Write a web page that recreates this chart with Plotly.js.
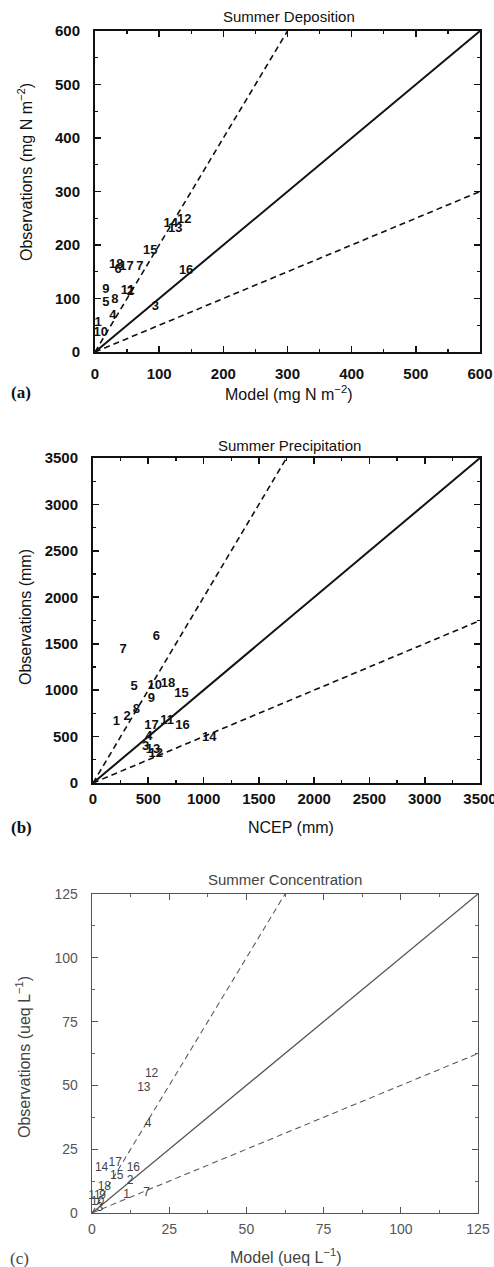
<!DOCTYPE html>
<html><head><meta charset="utf-8">
<script src="https://cdn.plot.ly/plotly-3.0.1.min.js"></script>
<style>html,body{margin:0;padding:0;background:#fff;}#chart{width:494px;height:1267px;}</style>
</head><body><div id="chart"></div>
<script>
// ---------- DATA ----------
// (a) Summer Deposition (mg N m-2)
const depStations = ['1','10','9','5','8','4','18','6','17','7','11','2','15','14','13','12','16','3'];
const depModel    = [5, 9, 17, 17, 31, 28, 33, 36, 49, 70, 51, 55, 86, 118, 125, 139, 142, 94];
const depObs      = [54, 36, 116, 93, 97, 67, 163, 154, 160, 160, 115, 112, 189, 239, 231, 247, 152, 85];

// (b) Summer Precipitation (mm)
const precStations = ['6','7','5','10','18','9','15','8','2','1','17','11','16','4','3','13','12','14'];
const precModel    = [574, 272, 371, 559, 679, 529, 801, 393, 308, 212, 529, 670, 810, 505, 477, 543, 568, 1051];
const precObs      = [1577, 1433, 1037, 1044, 1066, 911, 965, 785, 713, 659, 612, 670, 612, 497, 389, 361, 318, 490];

// (c) Summer Concentration (ueq L-1)
const concStations = ['12','13','4','14','17','16','15','2','18','1','7','11','10','9','3'];
const concModel    = [19.3, 16.8, 18.2, 3.1, 7.5, 13.4, 8.0, 12.3, 4.0, 11.2, 17.7, 0.8, 1.8, 3.4, 2.5];
const concObs      = [54.3, 49.1, 34.8, 17.8, 19.6, 17.8, 14.5, 12.5, 10.2, 6.9, 7.8, 6.5, 4.3, 6.8, 2.0];

// reference lines: Obs = ratio * Model
const ratios     = [1, 2, 0.5];
const ratioDash  = ['solid', 'dash', 'dash'];

// axis settings
const axMax   = [600, 3500, 125];
const axDtick = [100, 500, 25];
const axMinor = [50, 250, 12.5];

const titles  = ['Summer Deposition', 'Summer Precipitation', 'Summer Concentration'];
const xTitles = ['Model (mg N m<sup>−2</sup>)', 'NCEP (mm)', 'Model (ueq L<sup>−1</sup>)'];
const yTitles = ['Observations (mg N m<sup>−2</sup>)', 'Observations (mm)', 'Observations (ueq L<sup>−1</sup>)'];
const letters = ['(a)', '(b)', '(c)'];

// ---------- LAYOUT ----------
const W = 494, H = 1267;
const px = v => v / W;
const py = v => 1 - v / H;
const boxes = [ // [left, right, top, bottom] in px
  [95, 480, 31, 352],
  [93, 480, 458, 783],
  [92, 478, 894, 1213]
];
const SANS = 'Liberation Sans, Arial, sans-serif';
const styles = [
  {col:'#111', lw:2, tf:{family:SANS, size:15, color:'#111', weight:'bold'}, lab:{family:SANS, size:13, color:'#111', weight:'bold'}, ttl:'#111'},
  {col:'#111', lw:2, tf:{family:SANS, size:15, color:'#111', weight:'bold'}, lab:{family:SANS, size:13, color:'#111', weight:'bold'}, ttl:'#111'},
  {col:'#555', lw:1.3, tf:{family:SANS, size:14, color:'#555'}, lab:{family:SANS, size:12, color:'#444'}, ttl:'#444'}
];
const pts = [
  [depModel, depObs, depStations],
  [precModel, precObs, precStations],
  [concModel, concObs, concStations]
];
const xStand = [7, 1, 3];
const titlePos = [[289, 16], [289, 445], [285, 879]];
const xTitlePos = [[288, 393], [291, 828], [285, 1256]];
const yTitlePos = [[25, 172], [25, 617], [23, 1057]];
const letterPos = [[21, 392], [21, 828], [19, 1258]];

const traces = [];
const layout = {
  width: W, height: H, autosize: false,
  margin: {l:0, r:0, t:0, b:0},
  paper_bgcolor: '#fff', plot_bgcolor: 'rgba(0,0,0,0)',
  showlegend: false,
  annotations: []
};

for (let i = 0; i < 3; i++) {
  const n = i === 0 ? '' : String(i + 1);
  const xa = 'x' + n, ya = 'y' + n;
  const b = boxes[i], s = styles[i], m = axMax[i];
  const axis = (dom) => ({
    domain: dom, range: [0, m], autorange: false,
    tick0: 0, dtick: axDtick[i],
    ticks: 'inside', ticklen: 6, tickwidth: s.lw * 0.8, tickcolor: s.col,
    showline: true, linecolor: s.col, linewidth: s.lw, mirror: 'ticks',
    showgrid: false, zeroline: false,
    minor: {dtick: axMinor[i], tick0: 0, ticks: 'inside', ticklen: 3, tickwidth: s.lw * 0.7, tickcolor: s.col, showgrid: false},
    tickfont: s.tf, fixedrange: true, ticklabeloverflow: 'allow'
  });
  const xax = axis([px(b[0]), px(b[1])]);
  xax.anchor = ya; xax.ticklabelstandoff = xStand[i];
  const yax = axis([py(b[3]), py(b[2])]);
  yax.anchor = xa; yax.ticklabelstandoff = 10;
  layout['xaxis' + n] = xax;
  layout['yaxis' + n] = yax;

  ratios.forEach((r, k) => {
    const xe = Math.min(m, m / r);
    traces.push({
      type: 'scatter', mode: 'lines', xaxis: xa, yaxis: ya,
      x: [0, xe], y: [0, r * xe], hoverinfo: 'skip',
      line: {color: s.col, width: k === 0 ? s.lw : s.lw * 0.8, dash: ratioDash[k] === 'dash' ? '6px,4px' : 'solid'},
      cliponaxis: true
    });
  });
  traces.push({
    type: 'scatter', mode: 'text', xaxis: xa, yaxis: ya,
    x: pts[i][0], y: pts[i][1], text: pts[i][2],
    textposition: 'middle center', textfont: s.lab, cliponaxis: false, hoverinfo: 'skip'
  });

  layout.annotations.push(
    {xref:'paper', yref:'paper', x: px(titlePos[i][0]), y: py(titlePos[i][1]), xanchor:'center', yanchor:'middle', showarrow:false,
     text: titles[i], font:{family:SANS, size:15, color:s.ttl}},
    {xref:'paper', yref:'paper', x: px(xTitlePos[i][0]), y: py(xTitlePos[i][1]), xanchor:'center', yanchor:'middle', showarrow:false,
     text: xTitles[i], font:{family:SANS, size:16, color:s.ttl}},
    {xref:'paper', yref:'paper', x: px(yTitlePos[i][0]), y: py(yTitlePos[i][1]), xanchor:'center', yanchor:'middle', showarrow:false, textangle:-90,
     text: yTitles[i], font:{family:SANS, size:16, color:s.ttl}},
    {xref:'paper', yref:'paper', x: px(letterPos[i][0]), y: py(letterPos[i][1]), xanchor:'center', yanchor:'middle', showarrow:false,
     text: letters[i], font:{family:'Liberation Serif, Times New Roman, serif', size:17, color:s.ttl, weight: i < 2 ? 'bold' : 'normal'}}
  );
}

Plotly.newPlot('chart', traces, layout, {staticPlot: true, displayModeBar: false});
</script>
</body></html>
